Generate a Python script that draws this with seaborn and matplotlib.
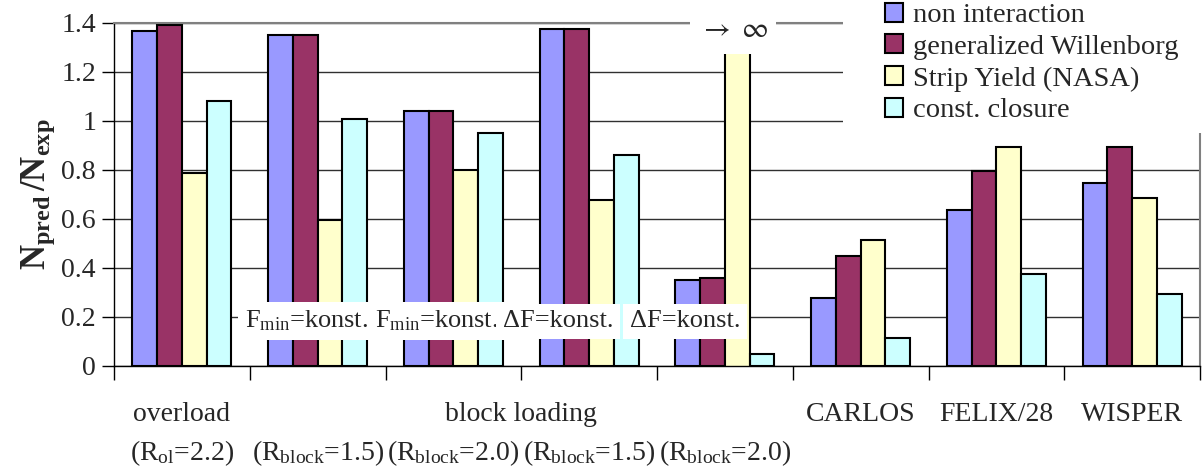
import numpy as np
import pandas as pd
import matplotlib
matplotlib.use("Agg")
import matplotlib.pyplot as plt
import seaborn as sns
from matplotlib.patches import Patch, Rectangle
from matplotlib.ticker import FixedLocator

# Values (N_pred / N_exp)
groups = ["overload", "block Fmin 1.5", "block Fmin 2.0", "block dF 1.5", "block dF 2.0",
          "CARLOS", "FELIX/28", "WISPER"]
tick_labels = ["overload", "", "", "", "", "CARLOS", "FELIX/28", "WISPER"]
sub_labels = [
    "(R$_{\\mathrm{ol}}$=2.2)",
    "(R$_{\\mathrm{block}}$=1.5)",
    "(R$_{\\mathrm{block}}$=2.0)",
    "(R$_{\\mathrm{block}}$=1.5)",
    "(R$_{\\mathrm{block}}$=2.0)",
    "", "", "",
]
models = ["non interaction", "generalized Willenborg", "Strip Yield (NASA)", "const. closure"]
non_interaction = [1.367, 1.352, 1.040, 1.375, 0.351, 0.278, 0.637, 0.746]
willenborg = [1.390, 1.352, 1.040, 1.375, 0.360, 0.450, 0.794, 0.893]
strip_yield = [0.786, 0.596, 0.800, 0.678, 1.273, 0.516, 0.893, 0.686]  # 5th goes to infinity (cut)
const_closure = [1.080, 1.008, 0.951, 0.861, 0.049, 0.114, 0.375, 0.294]
colors = ["#9999FF", "#993366", "#FFFFCC", "#CCFFFF"]
infinite_group = 4
annotations = ["F$_{\\mathrm{min}}$=konst.", "F$_{\\mathrm{min}}$=konst.", "ΔF=konst.", "ΔF=konst."]
yticks = [0, 0.2, 0.4, 0.6, 0.8, 1.0, 1.2, 1.4]
ytick_labels = ["0", "0.2", "0.4", "0.6", "0.8", "1", "1.2", "1.4"]

df = pd.DataFrame({
    "group": groups * 4,
    "model": np.repeat(models, len(groups)),
    "value": non_interaction + willenborg + strip_yield + const_closure,
})

sns.set_style("white")
plt.rcParams['font.family'] = ['Liberation Serif', 'DejaVu Serif']
plt.rcParams['mathtext.fontset'] = 'custom'
plt.rcParams['mathtext.rm'] = 'Liberation Serif'
plt.rcParams['mathtext.it'] = 'Liberation Serif:italic'
plt.rcParams['mathtext.bf'] = 'Liberation Serif:bold'

fig = plt.figure(figsize=(12.03, 4.68), dpi=100)
ax = fig.add_axes([0.0948, 0.218, 0.9027, 0.733])

sns.barplot(data=df, x="group", y="value", hue="model", order=groups, hue_order=models,
            palette=colors, saturation=1, width=0.73, gap=0, edgecolor="black",
            linewidth=1.5, legend=False, ax=ax, zorder=2)

# the Strip Yield bar for the last block case goes to infinity: no top edge
bar = ax.containers[2][infinite_group]
bar.set_edgecolor("none")
x0, x1 = bar.get_x(), bar.get_x() + bar.get_width()
ax.vlines([x0, x1], 0, bar.get_height(), color="black", lw=1.5, zorder=3)
ax.text(x0 + bar.get_width() / 2 - 0.03, 1.373, "$\\rightarrow\\ \\infty$", fontsize=21,
        math_fontfamily="stix", ha="center", va="center", zorder=5,
        bbox=dict(facecolor="white", edgecolor="none", pad=6))

ax.set_xlim(-0.5, len(groups) - 0.5)
ax.set_ylim(0, 1.4)
ax.set_axisbelow(True)
ax.yaxis.grid(True, color="#303030", lw=1)
ax.set_yticks(yticks)
ax.set_yticklabels(ytick_labels, fontsize=20)
ax.tick_params(axis="y", direction="out", length=9, width=1, color="black", pad=4, left=True)

ax.set_xticks(range(len(groups)))
ax.set_xticklabels(tick_labels, fontsize=20)
ax.xaxis.set_minor_locator(FixedLocator(np.arange(-0.5, len(groups), 1.0)))
ax.tick_params(axis="x", which="major", length=0, pad=26)
ax.tick_params(axis="x", which="minor", direction="out", length=10, width=1, color="black", bottom=True)
ax.annotate("block loading", xy=(2.5, 0), xycoords=("data", "axes fraction"),
            xytext=(0, -26), textcoords="offset points", ha="center", va="top", fontsize=20)
for i, lab in enumerate(sub_labels):
    if lab:
        ax.annotate(lab, xy=(i, 0), xycoords=("data", "axes fraction"),
                    xytext=(0, -52), textcoords="offset points", ha="center", va="top",
                    fontsize=20)
ax.set_xlabel("")
ax.set_ylabel("$\\mathbf{N_{pred}\\,/N_{exp}}$", fontsize=25, labelpad=3)

for side in ["left", "bottom"]:
    ax.spines[side].set_color("black")
    ax.spines[side].set_linewidth(1)
for side in ["top", "right"]:
    ax.spines[side].set_color("#808080")
    ax.spines[side].set_linewidth(1.5)

ann_x = [0.915, 1.875, 2.77, 3.706]
for x, txt in zip(ann_x, annotations):
    ax.text(x, 0.183, txt, fontsize=19, ha="center", va="center", zorder=5,
            bbox=dict(boxstyle="square,pad=0.25", facecolor="white", edgecolor="none"))

# white legend area masks grid lines and the frame in the upper right corner
ax.add_patch(Rectangle((0.671, 0.679), 0.35, 0.45, transform=ax.transAxes,
                       facecolor="white", edgecolor="none", zorder=2.7, clip_on=False))

handles = [Patch(facecolor=c, edgecolor="black", lw=1.5) for c in colors]
leg = ax.legend(handles, models, loc="upper right", bbox_to_anchor=(0.987, 1.08), fontsize=20.5,
                frameon=False, handlelength=0.65, handleheight=0.65, handletextpad=0.35,
                labelspacing=0.22, borderpad=0.25, borderaxespad=0)
leg.set_zorder(6)

fig.savefig("out.png", dpi=100)
